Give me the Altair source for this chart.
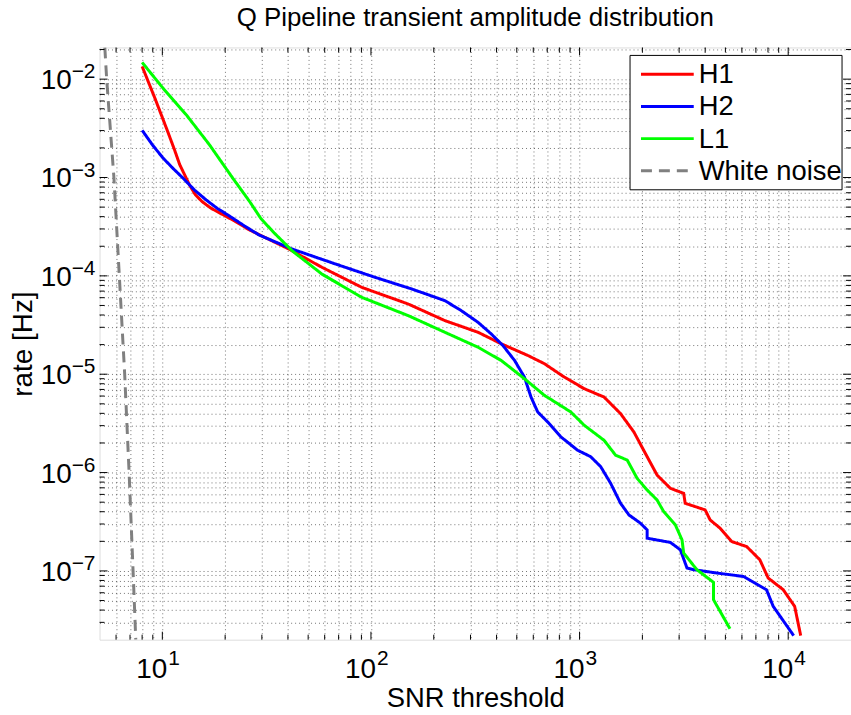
import altair as alt
import pandas as pd

title_text = "Q Pipeline transient amplitude distribution"
x_title = "SNR threshold"
y_title = "rate [Hz]"

series_names = ["H1", "H2", "L1", "White noise"]
series_colors = ["#ff0000", "#0000ff", "#00ff00", "#808080"]
series_dash = [[1, 0], [1, 0], [1, 0], [11, 7]]

h1_snr = [8, 9.24, 10.6, 11.45, 12.1, 13.5, 14.42, 15.57, 17.18, 19.18, 22.12, 26.09, 40.5, 58.3,
          90.5, 151, 226, 326, 421, 565, 678, 845, 1052, 1310, 1571, 1820, 2108, 2353, 2723, 3155,
          3208, 4000, 4225, 4712, 5358, 6320, 7311, 8017, 9462, 10740, 11480]
h1_rate = [1.35e-2, 6.3e-3, 2.95e-3, 1.9e-3, 1.36e-3, 8.39e-4, 6.65e-4, 5.65e-4, 4.85e-4, 4.27e-4,
           3.63e-4, 2.94e-4, 1.87e-4, 1.22e-4, 7.63e-5, 5.17e-5, 3.51e-5, 2.67e-5, 2.04e-5, 1.55e-5,
           1.28e-5, 9.35e-6, 7.13e-6, 5.86e-6, 3.98e-6, 2.59e-6, 1.45e-6, 9.43e-7, 6.92e-7, 6.15e-7,
           4.87e-7, 4.17e-7, 3.30e-7, 2.72e-7, 1.99e-7, 1.77e-7, 1.30e-7, 8.47e-8, 6.45e-8, 4.36e-8,
           2.20e-8]

h2_snr = [8, 8.99, 10.07, 11.2, 12.54, 14.26, 16.21, 18.35, 20.94, 24.69, 29.1, 42.0, 67.6, 105,
          157, 226, 271, 326, 377, 429, 488, 544, 585, 630, 703, 813, 977, 1130, 1262, 1409, 1571,
          1724, 1960, 2108, 2108, 2723, 3041, 3273, 3518, 4550, 6095, 7870, 8472, 10620]
h2_rate = [3.02e-3, 2.13e-3, 1.58e-3, 1.25e-3, 9.89e-4, 7.46e-4, 5.92e-4, 4.85e-4, 4.07e-4, 3.23e-4,
           2.6e-4, 1.87e-4, 1.32e-4, 9.64e-5, 7.35e-5, 5.60e-5, 4.43e-5, 3.37e-5, 2.57e-5, 1.96e-5,
           1.38e-5, 9.35e-6, 5.86e-6, 4.13e-6, 3.27e-6, 2.31e-6, 1.69e-6, 1.45e-6, 1.15e-6, 7.78e-7,
           4.88e-7, 3.71e-7, 3.05e-7, 2.61e-7, 2.15e-7, 1.95e-7, 1.64e-7, 1.07e-7, 1.03e-7, 9.52e-8,
           8.79e-8, 6.44e-8, 4.37e-8, 2.20e-8]

l1_snr = [8, 10.07, 13.0, 16.8, 21.7, 26.1, 29.75, 34.32, 42.0, 58.3, 90.5, 151, 226, 326, 421,
          544, 678, 908, 1052, 1310, 1489, 1692, 1888, 2108, 2353, 2530, 2877, 3097, 3155, 3648,
          4385, 4385, 5260]
l1_rate = [1.48e-2, 8.11e-3, 4.36e-3, 2.16e-3, 9.93e-4, 5.77e-4, 3.80e-4, 2.74e-4, 1.79e-4,
           1.04e-4, 6.04e-5, 3.94e-5, 2.67e-5, 1.88e-5, 1.38e-5, 9.0e-6, 6.10e-6, 4.13e-6, 3.03e-6,
           2.13e-6, 1.50e-6, 1.34e-6, 8.73e-7, 6.65e-7, 5.26e-7, 4.01e-7, 2.94e-7, 2.07e-7, 1.52e-7,
           1.03e-7, 7.66e-8, 5.10e-8, 2.58e-8]

wn_snr = [5.3, 5.41, 5.86, 6.22, 6.6, 6.93, 7.24, 7.46]
wn_rate = [2.1e-2, 1e-2, 1e-3, 1e-4, 1e-5, 1e-6, 1e-7, 2e-8]

x_major = [10, 100, 1000, 10000]
x_exp = ["1", "2", "3", "4"]
y_major = [1e-2, 1e-3, 1e-4, 1e-5, 1e-6, 1e-7]
y_exp = ["\u22122", "\u22123", "\u22124", "\u22125", "\u22126", "\u22127"]
x_minor = [6, 7, 8, 9, 20, 30, 40, 50, 60, 70, 80, 90, 200, 300, 400, 500, 600, 700, 800, 900,
           2000, 3000, 4000, 5000, 6000, 7000, 8000, 9000]
y_minor = [3e-8, 4e-8, 5e-8, 6e-8, 7e-8, 8e-8, 9e-8, 2e-7, 3e-7, 4e-7, 5e-7, 6e-7, 7e-7, 8e-7, 9e-7,
           2e-6, 3e-6, 4e-6, 5e-6, 6e-6, 7e-6, 8e-6, 9e-6, 2e-5, 3e-5, 4e-5, 5e-5, 6e-5, 7e-5, 8e-5, 9e-5,
           2e-4, 3e-4, 4e-4, 5e-4, 6e-4, 7e-4, 8e-4, 9e-4, 2e-3, 3e-3, 4e-3, 5e-3, 6e-3, 7e-3, 8e-3, 9e-3,
           2e-2]
x_grid = sorted(x_minor + x_major)
y_grid = sorted(y_minor + y_major)

W, H = 755, 595
FONT = "Liberation Sans"

rows = []
for name, xs, ys in [("H1", h1_snr, h1_rate), ("H2", h2_snr, h2_rate),
                     ("L1", l1_snr, l1_rate), ("White noise", wn_snr, wn_rate)]:
    for i, (a, b) in enumerate(zip(xs, ys)):
        rows.append({"snr": a, "rate": b, "det": name, "i": i})
df = pd.DataFrame(rows)

xscale = alt.Scale(type="log", domain=[5, 20000], nice=False)
yscale = alt.Scale(type="log", domain=[2e-8, 2.1e-2], nice=False)

ax_x = alt.Axis(values=x_grid, grid=True, gridDash=[1, 3], gridColor="black", gridOpacity=0.55,
                labels=False, ticks=False, domain=False, title=x_title, titleFont=FONT,
                titleFontSize=27.5, titleFontWeight="normal", titleColor="black",
                titleBaseline="alphabetic", titlePadding=67)
ax_y = alt.Axis(values=y_grid, grid=True, gridDash=[1, 3], gridColor="black", gridOpacity=0.55,
                labels=False, ticks=False, domain=False, title=y_title, titleFont=FONT,
                titleFontSize=28, titleFontWeight="normal", titleColor="black",
                titleBaseline="alphabetic", titlePadding=68)

X = lambda f: alt.X(f, scale=xscale, axis=ax_x)
Y = lambda f: alt.Y(f, scale=yscale, axis=ax_y)

lines = alt.Chart(df).mark_line(strokeWidth=3, clip=True).encode(
    x=X("snr:Q"),
    y=Y("rate:Q"),
    color=alt.Color("det:N", scale=alt.Scale(domain=series_names, range=series_colors), legend=None),
    strokeDash=alt.StrokeDash("det:N", scale=alt.Scale(domain=series_names, range=series_dash),
                              legend=None),
    order="i:Q",
)


def xtick_layer(vals, length, top):
    d = pd.DataFrame({"v": vals})
    if top:
        yy, yy2 = alt.value(0), alt.value(length)
    else:
        yy, yy2 = alt.value(H), alt.value(H - length)
    return alt.Chart(d).mark_rule(color="black", strokeWidth=1).encode(x=X("v:Q"), y=yy, y2=yy2)


def ytick_layer(vals, length, right):
    d = pd.DataFrame({"v": vals})
    if right:
        xx, xx2 = alt.value(W), alt.value(W - length)
    else:
        xx, xx2 = alt.value(0), alt.value(length)
    return alt.Chart(d).mark_rule(color="black", strokeWidth=1).encode(y=Y("v:Q"), x=xx, x2=xx2)


ticks = [xtick_layer(x_major, 8, False), xtick_layer(x_minor, 5, False),
         xtick_layer(x_major, 8, True), xtick_layer(x_minor, 5, True),
         ytick_layer(y_major, 8, False), ytick_layer(y_minor, 5, False),
         ytick_layer(y_major, 8, True), ytick_layer(y_minor, 5, True)]

xlab_df = pd.DataFrame({"v": x_major, "e": x_exp})
ylab_df = pd.DataFrame({"v": y_major, "e": y_exp})

xl_base = alt.Chart(xlab_df).mark_text(text="10", font=FONT, fontSize=28, align="right",
                                        baseline="alphabetic", dx=5, color="black").encode(
    x=X("v:Q"), y=alt.value(H + 39))
xl_exp = alt.Chart(xlab_df).mark_text(font=FONT, fontSize=21, align="left",
                                       baseline="alphabetic", dx=6, color="black").encode(
    x=X("v:Q"), y=alt.value(H + 25), text="e:N")
yl_base = alt.Chart(ylab_df).mark_text(text="10", font=FONT, fontSize=28, align="right",
                                        baseline="alphabetic", dy=10, color="black").encode(
    y=Y("v:Q"), x=alt.value(-28))
yl_exp = alt.Chart(ylab_df).mark_text(font=FONT, fontSize=21, align="left",
                                       baseline="alphabetic", dy=-1, color="black").encode(
    y=Y("v:Q"), x=alt.value(-28), text="e:N")

# legend box (drawn as a MATLAB-style boxed legend)
leg_box = alt.Chart(pd.DataFrame({"k": [0]})).mark_rect(
    fill="white", stroke="black", strokeWidth=1).encode(
    x=alt.value(533), x2=alt.value(746), y=alt.value(8), y2=alt.value(143))
leg_layers = [leg_box]
for k, (nm, colr, dash) in enumerate(zip(series_names, series_colors, series_dash)):
    yk = 27 + 32.3 * k
    one = pd.DataFrame({"det": [nm]})
    leg_layers.append(alt.Chart(one).mark_rule(color=colr, strokeWidth=3, strokeDash=dash).encode(
        x=alt.value(544), x2=alt.value(597), y=alt.value(yk)))
    leg_layers.append(alt.Chart(one).mark_text(font=FONT, fontSize=27.5, align="left",
                                               baseline="middle", color="black", dy=1).encode(
        x=alt.value(602), y=alt.value(yk), text="det:N"))

chart = alt.layer(lines, *ticks, xl_base, xl_exp, yl_base, yl_exp, *leg_layers).properties(
    width=W, height=H,
    title=alt.TitleParams(title_text, font=FONT, fontSize=26, fontWeight="normal", color="black",
                          anchor="middle", baseline="alphabetic", offset=22, dy=27),
    autosize=alt.AutoSizeParams(type="none"),
    padding={"left": 100, "top": 46, "right": 0, "bottom": 74},
).configure_view(stroke="black", strokeWidth=1.5).configure(background="white")

chart.save("out.html", embed_options={"renderer": "svg", "actions": False})
